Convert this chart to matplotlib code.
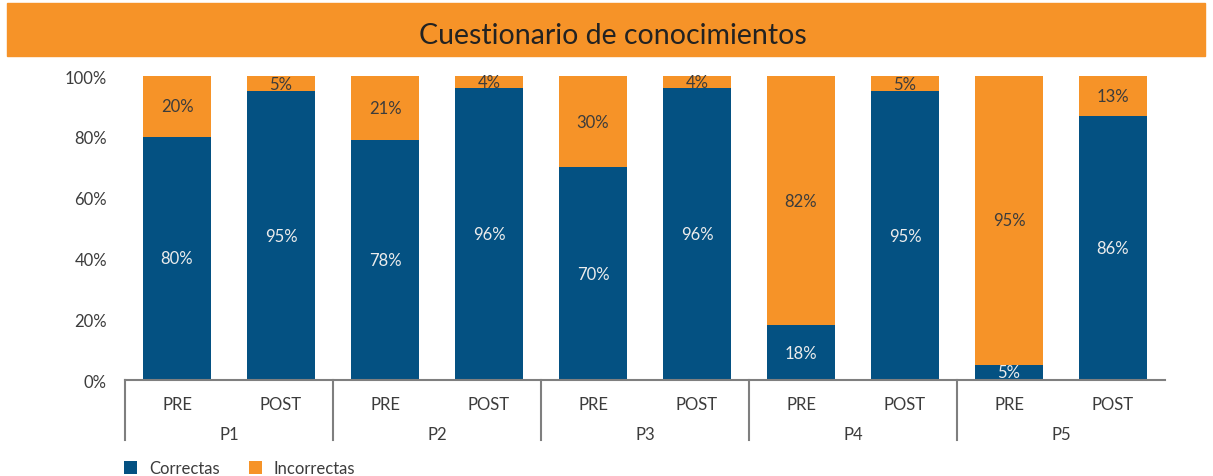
import matplotlib.pyplot as plt
from matplotlib.patches import Rectangle
import numpy as np

plt.rcParams["font.family"] = ["Lato", "DejaVu Sans"]

OUT_FILE = "out.png"

questions = ["P1", "P2", "P3", "P4", "P5"]
moments = ["PRE", "POST"]
correctas = [80, 95, 78, 96, 70, 96, 18, 95, 5, 86]
incorrectas = [20, 5, 21, 4, 30, 4, 82, 5, 95, 13]

BLUE = "#045182"
ORANGE = "#F69328"
TEXT = "#3c3c3c"
AXIS = "#7f7f7f"

W, H = 1213, 477


def px_box(x0, y0, x1, y1):
    # pixel box (top-left origin) -> figure fraction rect
    return [x0 / W, 1 - y1 / H, (x1 - x0) / W, (y1 - y0) / H]


def main():
    fig = plt.figure(figsize=(W / 100, H / 100), dpi=100)

    # title banner
    fig.patches.append(Rectangle((7 / W, 1 - 57 / H), (1205 - 7) / W, (57 - 4) / H,
                                 transform=fig.transFigure, color=ORANGE, zorder=0))
    fig.text(613 / W, 1 - 36 / H, "Cuestionario de conocimientos", ha="center", va="center",
             fontsize=20.5, color="#222222")

    # axes: 0% at y=381, 100% at y=77
    y_top = 381 - 102 * 3.04
    ax = fig.add_axes(px_box(125, y_top, 1165, 381))

    # 100% stacked, like the original spreadsheet chart
    totals = [c + i for c, i in zip(correctas, incorrectas)]
    corr_share = [100 * c / t for c, t in zip(correctas, totals)]
    inc_share = [100 * i / t for i, t in zip(incorrectas, totals)]

    x = np.arange(len(correctas))
    width = 0.663
    ax.bar(x, corr_share, width, color=BLUE, label="Correctas", zorder=2)
    ax.bar(x, inc_share, width, bottom=corr_share, color=ORANGE, label="Incorrectas", zorder=2)

    for i in range(len(correctas)):
        ax.text(x[i], corr_share[i] / 2, f"{correctas[i]}%", ha="center", va="center",
                fontsize=12, color="#ececec")
        ax.text(x[i], corr_share[i] + inc_share[i] / 2, f"{incorrectas[i]}%", ha="center",
                va="center", fontsize=12, color=TEXT)

    ax.set_xlim(-0.5, len(correctas) - 0.5)
    ax.set_ylim(0, 102)
    ax.set_yticks(range(0, 101, 20))
    ax.set_yticklabels([f"{v}%" for v in range(0, 101, 20)], fontsize=12, color=TEXT)
    ax.tick_params(axis="y", length=0, pad=13)
    ax.set_xticks([])

    for side in ["top", "right", "left"]:
        ax.spines[side].set_visible(False)
    ax.spines["bottom"].set_color(AXIS)
    ax.spines["bottom"].set_linewidth(1.5)

    # two-level category axis
    trans = ax.get_xaxis_transform()
    px_to_ax = 1.0 / (381 - y_top)
    for i in range(len(correctas)):
        ax.text(x[i], -(405 - 381) * px_to_ax, moments[i % 2], transform=trans,
                ha="center", va="center", fontsize=12, color=TEXT)
    for g, q in enumerate(questions):
        ax.text(2 * g + 0.5, -(435 - 381) * px_to_ax, q, transform=trans,
                ha="center", va="center", fontsize=12, color=TEXT)
    for g in range(len(questions)):
        ax.plot([2 * g - 0.5, 2 * g - 0.5], [0, -(441 - 381) * px_to_ax], transform=trans,
                color=AXIS, lw=1.5, clip_on=False)

    # legend
    handles, labels = ax.get_legend_handles_labels()
    fig.legend(handles, labels, loc="center left", bbox_to_anchor=(109 / W, 1 - 469 / H),
               ncol=2, frameon=False, fontsize=12, handlelength=0.8, handleheight=0.8,
               handletextpad=0.7, columnspacing=1.75, labelcolor=TEXT)

    fig.savefig(OUT_FILE, dpi=100)
    plt.close(fig)


if __name__ == "__main__":
    main()
